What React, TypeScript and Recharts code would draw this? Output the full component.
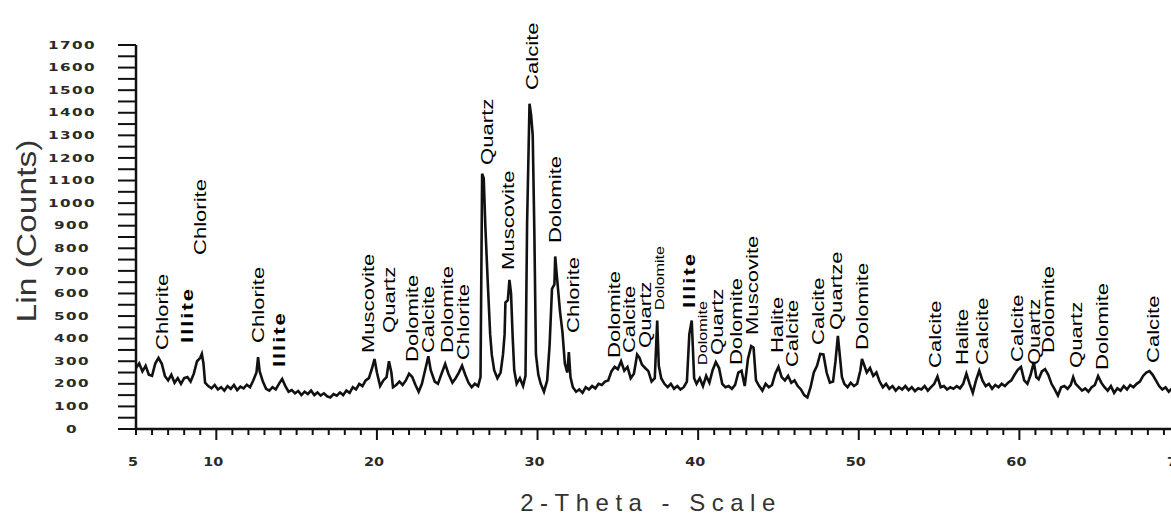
import { ComposedChart, Line, Scatter, XAxis, YAxis } from 'recharts';

// 2-theta (deg) / counts pairs, split by angle range
const lowAngle: [number, number][] = [
  [5.0, 270], [5.2, 290], [5.4, 255], [5.6, 280], [5.8, 240], [6.0, 235], [6.2, 290], [6.4, 315],
  [6.6, 290], [6.8, 235], [7.0, 215], [7.2, 240], [7.4, 205], [7.6, 225], [7.8, 200], [8.0, 225],
  [8.2, 230], [8.4, 210], [8.6, 245], [8.8, 300], [9.0, 315], [9.1, 332], [9.2, 290], [9.3, 205],
  [9.5, 190], [9.7, 180], [9.9, 195], [10.1, 175], [10.3, 185], [10.5, 170], [10.7, 190], [10.9, 178],
  [11.1, 195], [11.3, 172], [11.5, 188], [11.7, 180], [11.9, 196], [12.1, 185], [12.3, 215], [12.5, 250],
  [12.6, 318], [12.7, 255], [12.9, 210], [13.1, 178], [13.3, 170], [13.5, 185], [13.7, 175], [13.9, 200],
  [14.1, 222], [14.3, 190], [14.5, 165],
];

const midAngle: [number, number][] = [
  [14.7, 172], [14.9, 158], [15.1, 168], [15.3, 150], [15.5, 165], [15.7, 155], [15.9, 170], [16.1, 150],
  [16.3, 162], [16.5, 148], [16.7, 158], [16.9, 145], [17.1, 140], [17.3, 155], [17.5, 148], [17.7, 162],
  [17.9, 150], [18.1, 170], [18.3, 160], [18.5, 185], [18.7, 175], [18.9, 200], [19.1, 190], [19.3, 215],
  [19.5, 225], [19.7, 270], [19.85, 310], [20.0, 250], [20.2, 190], [20.4, 215], [20.6, 230], [20.75, 300],
  [20.9, 250], [21.0, 185], [21.2, 195], [21.4, 210], [21.6, 195], [21.8, 215], [22.0, 245], [22.2, 230],
  [22.4, 195], [22.6, 165], [22.8, 200], [23.0, 260], [23.2, 322], [23.35, 260], [23.6, 210], [23.8, 200],
  [24.0, 240], [24.25, 288], [24.45, 245], [24.7, 205], [24.9, 225], [25.1, 250], [25.3, 280], [25.5, 240],
  [25.7, 205], [25.9, 185], [26.1, 200], [26.3, 190], [26.45, 230],
];

const mainPeaks: [number, number][] = [
  [26.55, 1130], [26.65, 1110], [26.75, 900], [26.9, 650], [27.05, 420], [27.15, 330], [27.3, 260],
  [27.5, 225], [27.7, 250], [27.85, 330], [27.95, 420], [28.0, 560], [28.15, 570], [28.25, 660],
  [28.35, 600], [28.45, 410], [28.55, 260], [28.7, 200], [28.9, 225], [29.1, 190], [29.25, 235],
  [29.35, 910], [29.5, 1440], [29.6, 1390], [29.7, 1300], [29.8, 880], [29.9, 330], [30.05, 240],
  [30.2, 200], [30.4, 165], [30.6, 215], [30.75, 370], [30.9, 620], [31.05, 640], [31.1, 764],
  [31.2, 680], [31.4, 520], [31.55, 430], [31.7, 290], [31.85, 250], [31.95, 340], [32.05, 230],
  [32.2, 185], [32.4, 165], [32.6, 175], [32.8, 160], [33.0, 185],
];

const highAngle: [number, number][] = [
  [33.2, 175], [33.4, 190], [33.6, 180], [33.8, 200], [34.0, 195], [34.2, 210], [34.4, 215], [34.6, 255],
  [34.8, 275], [35.0, 265], [35.2, 300], [35.4, 258], [35.6, 275], [35.8, 225], [36.0, 245], [36.2, 330],
  [36.35, 315], [36.5, 285], [36.7, 270], [36.9, 256], [37.1, 210], [37.3, 225], [37.45, 480], [37.55, 280],
  [37.7, 225], [37.9, 200], [38.1, 185], [38.3, 200], [38.5, 178], [38.7, 190], [38.9, 175], [39.1, 185],
  [39.3, 210], [39.45, 420], [39.6, 480], [39.75, 225], [39.9, 200], [40.1, 225], [40.3, 190], [40.5, 235],
  [40.7, 205], [40.9, 260], [41.1, 296], [41.3, 270], [41.5, 200], [41.7, 185], [41.9, 190], [42.1, 178],
  [42.3, 195], [42.5, 250], [42.7, 258], [42.9, 190], [43.1, 310], [43.3, 367], [43.45, 360], [43.6, 215],
  [43.8, 190], [44.0, 170], [44.2, 200], [44.4, 185], [44.6, 195], [44.8, 245], [45.0, 275], [45.2, 230],
  [45.4, 215], [45.6, 235], [45.8, 205], [46.0, 215], [46.2, 190], [46.4, 175], [46.6, 150], [46.8, 140],
  [47.0, 185], [47.2, 250], [47.4, 280], [47.6, 332], [47.8, 330], [48.0, 250], [48.2, 205], [48.4, 210],
  [48.55, 300], [48.7, 412], [48.8, 340], [48.95, 230], [49.1, 200], [49.3, 185], [49.5, 205], [49.7, 190],
  [49.9, 200], [50.1, 260], [50.2, 310], [50.35, 280], [50.5, 250], [50.7, 270], [50.9, 235], [51.1, 250],
  [51.3, 210], [51.5, 185], [51.7, 200], [51.9, 178],
];

const tailAngle: [number, number][] = [
  [52.1, 190], [52.3, 170], [52.5, 185], [52.7, 175], [52.9, 190], [53.1, 172], [53.3, 185], [53.5, 168],
  [53.7, 180], [53.9, 175], [54.1, 190], [54.3, 170], [54.5, 185], [54.7, 200], [54.9, 232], [55.1, 185],
  [55.3, 190], [55.5, 175], [55.7, 185], [55.9, 178], [56.1, 190], [56.3, 180], [56.5, 200], [56.7, 245],
  [56.9, 200], [57.1, 160], [57.3, 215], [57.5, 258], [57.7, 215], [57.9, 190], [58.1, 200], [58.3, 178],
  [58.5, 195], [58.7, 185], [58.9, 200], [59.1, 190], [59.3, 205], [59.5, 215], [59.7, 240], [59.9, 262],
  [60.1, 275], [60.3, 215], [60.5, 200], [60.7, 240], [60.9, 296], [61.05, 230], [61.2, 220], [61.4, 255],
  [61.6, 265], [61.8, 240], [62.0, 200], [62.2, 175], [62.4, 148], [62.6, 185], [62.8, 190], [63.0, 178],
  [63.2, 195], [63.35, 230], [63.5, 200], [63.7, 185], [63.9, 170], [64.1, 180], [64.3, 165], [64.5, 185],
  [64.7, 195], [64.9, 234], [65.1, 205], [65.3, 185], [65.5, 170], [65.7, 190], [65.9, 160], [66.1, 180],
  [66.3, 170], [66.5, 190], [66.7, 175], [66.9, 195], [67.1, 185], [67.3, 200], [67.5, 210], [67.7, 235],
  [67.9, 250], [68.1, 256], [68.3, 240], [68.5, 215], [68.7, 190], [68.9, 175], [69.1, 185], [69.3, 165],
  [69.5, 180], [69.7, 170], [69.9, 175],
];

// phase labels: position (2-theta), height where the text starts (counts), name
const labelTheta = [
  6.62, 8.18, 8.99, 12.6, 13.9, 19.45, 20.75, 22.19, 23.18, 24.37, 25.36, 26.86, 28.16, 29.66, 31.09,
  32.21, 34.76, 35.7, 36.69, 37.57, 39.43, 40.3, 41.18, 42.36, 43.36, 44.91, 45.85, 47.47, 48.59, 50.21,
  54.75, 56.43, 57.68, 59.86, 60.92, 61.79, 63.53, 65.15, 68.33,
];
const labelCounts = [
  350, 381, 770, 381, 274, 336, 425, 297, 336, 336, 305, 1169, 704, 1501, 823,
  425, 314, 336, 359, 527, 536, 283, 328, 283, 416, 336, 274, 372, 438, 350,
  270, 283, 283, 297, 283, 336, 270, 261, 292,
];
const labelNames = [
  'Chlorite', 'Illite', 'Chlorite', 'Chlorite', 'Illite', 'Muscovite', 'Quartz', 'Dolomite', 'Calcite',
  'Dolomite', 'Chlorite', 'Quartz', 'Muscovite', 'Calcite', 'Dolomite', 'Chlorite', 'Dolomite', 'Calcite',
  'Quartz', 'Dolomite', 'Illite', 'Dolomite', 'Quartz', 'Dolomite', 'Muscovite', 'Halite', 'Calcite',
  'Calcite', 'Quartze', 'Dolomite', 'Calcite', 'Halite', 'Calcite', 'Calcite', 'Quartz', 'Dolomite',
  'Quartz', 'Dolomite', 'Calcite',
];
const smallLabels = [19, 21];

const thetaTicks = [
  5, 6, 7, 8, 9, 10, 11, 12, 13, 14, 15, 16, 17, 18, 19, 20, 21, 22, 23, 24, 25, 26, 27, 28, 29, 30, 31, 32,
  33, 34, 35, 36, 37, 38, 39, 40, 41, 42, 43, 44, 45, 46, 47, 48, 49, 50, 51, 52, 53, 54, 55, 56, 57, 58, 59,
  60, 61, 62, 63, 64, 65, 66, 67, 68, 69, 70,
];
const thetaLabels = [5, 10, 20, 30, 40, 50, 60, 70];
const countTicks = [
  0, 50, 100, 150, 200, 250, 300, 350, 400, 450, 500, 550, 600, 650, 700, 750, 800, 850, 900, 950, 1000,
  1050, 1100, 1150, 1200, 1250, 1300, 1350, 1400, 1450, 1500, 1550, 1600, 1650, 1700,
];

const trace = [...lowAngle, ...midAngle, ...mainPeaks, ...highAngle, ...tailAngle].map(([x, y]) => ({ x, y }));
const peakLabels = labelTheta.map((x, i) => ({
  x,
  y: labelCounts[i],
  name: labelNames[i],
  small: smallLabels.includes(i),
}));

const tickFont = "'DejaVu Sans', Verdana, sans-serif";
const labelFont = "'Liberation Sans', Arial, sans-serif";

function ThetaTick(props: any) {
  const { x, y, payload } = props;
  const v = payload.value as number;
  const axisY = y - 8;
  const major = v % 10 === 0;
  return (
    <g>
      <line x1={x} x2={x} y1={axisY} y2={axisY + (major ? 11 : 6)} stroke="#111" strokeWidth={2} />
      {thetaLabels.includes(v) && (
        <text
          transform={`translate(${x - 3},${axisY + 33}) scale(1.2,1)`}
          textAnchor="middle"
          dy="0.35em"
          fontFamily={tickFont}
          fontWeight={700}
          fontSize={12}
          fill="#2a2a2a"
        >
          {v}
        </text>
      )}
    </g>
  );
}

function CountTick(props: any) {
  const { x, y, payload } = props;
  const v = payload.value as number;
  if (v % 100 !== 0) return null;
  return (
    <text
      transform={`translate(${x - 44},${y}) scale(1.45,1)`}
      textAnchor="middle"
      dy="0.35em"
      fontFamily={tickFont}
      fontWeight={700}
      fontSize={10.5}
      letterSpacing={1}
      fill="#2a2a2a"
    >
      {v}
    </text>
  );
}

function PeakLabel(props: any) {
  const { cx, cy, payload } = props;
  const illite = payload.name === 'Illite';
  return (
    <text
      transform={`translate(${cx},${cy}) rotate(-90) scale(1.3,1)`}
      dy="0.35em"
      fontFamily={labelFont}
      fontSize={payload.small ? 12.5 : 17}
      fontWeight={illite ? 700 : 400}
      letterSpacing={illite ? 1.5 : 0}
      fill="#000"
    >
      {payload.name}
    </text>
  );
}

export default function App() {
  return (
    <div
      style={{
        position: 'absolute',
        left: 0,
        top: 0,
        width: 1171,
        height: 516,
        overflow: 'hidden',
        background: '#fff',
      }}
    >
      <ComposedChart width={1200} height={516} margin={{ top: 45, right: 20, bottom: 0, left: 0 }}>
        <XAxis
          type="number"
          dataKey="x"
          domain={[5, 70]}
          ticks={thetaTicks}
          interval={0}
          height={87}
          tickSize={6}
          tickMargin={2}
          tickLine={false}
          tick={<ThetaTick />}
          axisLine={{ stroke: '#111', strokeWidth: 2.5 }}
        />
        <YAxis
          type="number"
          dataKey="y"
          domain={[0, 1700]}
          ticks={countTicks}
          interval={0}
          width={136}
          tickSize={18}
          tickMargin={2}
          tickLine={{ stroke: '#111', strokeWidth: 2 }}
          tick={<CountTick />}
          axisLine={{ stroke: '#111', strokeWidth: 2.5 }}
        />
        <Line
          data={trace}
          dataKey="y"
          type="linear"
          stroke="#111"
          strokeWidth={2.6}
          dot={false}
          isAnimationActive={false}
        />
        <Scatter data={peakLabels} dataKey="y" shape={<PeakLabel />} isAnimationActive={false} />
      </ComposedChart>
      <div
        style={{
          position: 'absolute',
          left: 27,
          top: 231,
          transform: 'translate(-50%, -50%) rotate(-90deg) scaleX(1.2)',
          fontFamily: labelFont,
          fontSize: 28,
          color: '#333',
          whiteSpace: 'nowrap',
        }}
      >
        Lin (Counts)
      </div>
      <div
        style={{
          position: 'absolute',
          left: 651,
          top: 503,
          transform: 'translate(-50%, -50%)',
          fontFamily: labelFont,
          fontSize: 24,
          letterSpacing: 6.5,
          color: '#333',
          whiteSpace: 'nowrap',
        }}
      >
        2-Theta - Scale
      </div>
    </div>
  );
}
